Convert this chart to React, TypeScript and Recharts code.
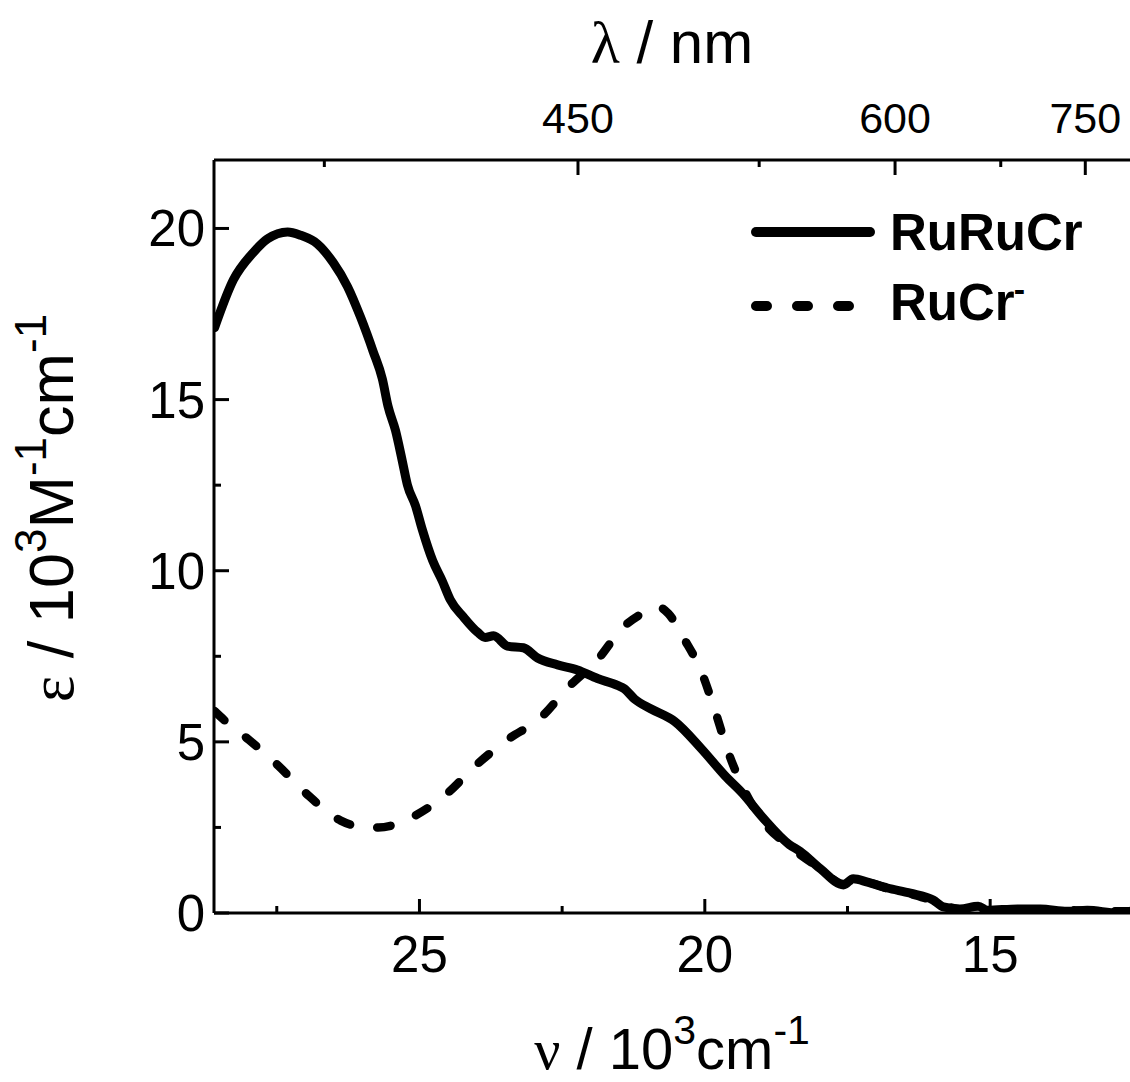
import React from 'react';
import { LineChart, Line, XAxis, YAxis, Legend } from 'recharts';

// RuRuCr (solid): wavenumber (10^3 cm^-1) and epsilon (10^3 M^-1 cm^-1)
const RURUCR_NU = [28.59, 28.26, 27.91, 27.66, 27.31, 27.08, 26.79, 26.51, 26.26, 26.03, 25.81, 25.65, 25.55, 25.42, 25.3, 25.21, 25.07, 24.95, 24.77, 24.6, 24.46, 24.23, 23.98, 23.85, 23.7, 23.46, 23.18, 22.93, 22.58, 22.23, 21.88, 21.53, 21.41, 21.23, 20.94, 20.53, 20.06, 19.64, 19.34, 18.99, 18.52, 18.33, 17.98, 17.57, 17.4, 17.15, 16.8, 16.4, 16.0, 15.82, 15.53, 15.21, 15.05, 14.52, 14.12, 13.65, 13.3, 12.77, 12.55];
const RURUCR_EPS = [17.1, 18.5, 19.3, 19.7, 19.9, 19.8, 19.55, 19.0, 18.3, 17.4, 16.4, 15.6, 14.8, 14.1, 13.2, 12.5, 11.9, 11.2, 10.3, 9.7, 9.15, 8.65, 8.2, 8.05, 8.1, 7.8, 7.75, 7.45, 7.25, 7.1, 6.85, 6.65, 6.55, 6.25, 5.96, 5.6, 4.8, 4.0, 3.5, 2.8, 2.0, 1.8, 1.3, 0.82, 1.0, 0.9, 0.73, 0.58, 0.38, 0.18, 0.12, 0.2, 0.08, 0.12, 0.12, 0.05, 0.08, 0.0, 0.05];

// RuCr- (dashed)
const RUCR_NU = [28.59, 28.43, 27.99, 27.47, 26.99, 26.38, 25.95, 25.72, 25.4, 25.07, 24.51, 24.02, 23.46, 22.88, 22.39, 21.88, 21.43, 21.1, 20.83, 20.64, 20.36, 20.06, 19.82, 19.59, 19.34, 18.99, 18.52, 17.98, 17.57, 17.15, 16.8, 16.4, 16.0, 15.5, 15.0, 14.0, 13.0, 12.55];
const RUCR_EPS = [5.9, 5.65, 5.06, 4.3, 3.5, 2.7, 2.5, 2.5, 2.6, 2.85, 3.5, 4.3, 5.06, 5.7, 6.6, 7.4, 8.35, 8.75, 8.95, 8.75, 8.0, 7.05, 5.9, 4.7, 3.7, 2.7, 1.95, 1.3, 0.85, 0.88, 0.72, 0.56, 0.36, 0.1, 0.08, 0.1, 0.05, 0.05];

const SERIES_NAMES = ['RuRuCr', 'RuCr'];
const SERIES_SUPS = ['', '-'];

const NU_MAJOR = [25, 20, 15];
const NU_MINOR = [27.5, 22.5, 17.5];
const LAMBDA_MAJOR = [450, 600, 750];
const LAMBDA_MINOR = [375, 525, 675];
const EPS_MAJOR = [0, 5, 10, 15, 20];
const EPS_MINOR = [2.5, 7.5, 12.5, 17.5];
const NU_DOMAIN: [number, number] = [12.55, 28.6];
const EPS_DOMAIN: [number, number] = [0, 22];

const rurucrData = RURUCR_NU.map((v, i) => ({ v, e: RURUCR_EPS[i] }));
const rucrData = RUCR_NU.map((v, i) => ({ v, e: RUCR_EPS[i] }));

const nuTicks = [...NU_MINOR, ...NU_MAJOR].sort((a, b) => b - a);
const lambdaTicks = [...LAMBDA_MINOR, ...LAMBDA_MAJOR].sort((a, b) => a - b).map((l) => 10000 / l);
const epsTicks = [...EPS_MINOR, ...EPS_MAJOR].sort((a, b) => a - b);

const SANS = '"Liberation Sans", Arial, Helvetica, sans-serif';
const SERIF = '"Liberation Serif", "Times New Roman", "DejaVu Serif", serif';

const W = 1130;
const H = 1082;
const PLOT_LEFT = 214;
const PLOT_TOP = 160;
const PLOT_BOTTOM = 913;

const isIn = (arr: number[], v: number) => arr.some((m) => Math.abs(m - v) < 1e-6);

function BottomTick(props: any) {
  const { x, y, payload } = props;
  const major = isIn(NU_MAJOR, payload.value);
  return (
    <g>
      <line x1={x} x2={x} y1={y} y2={y - (major ? 14 : 7)} stroke="#000" strokeWidth={3} />
      {major && (
        <text x={x} y={y + 59} textAnchor="middle" fontFamily={SANS} fontSize={51} fill="#000">
          {payload.value}
        </text>
      )}
    </g>
  );
}

function TopTick(props: any) {
  const { x, y, payload } = props;
  const lam = Math.round(10000 / payload.value);
  const major = isIn(LAMBDA_MAJOR, lam);
  return (
    <g>
      <line x1={x} x2={x} y1={y} y2={y + (major ? 15 : 7)} stroke="#000" strokeWidth={3} />
      {major && (
        <text x={x} y={y - 27} textAnchor="middle" fontFamily={SANS} fontSize={43} fill="#000">
          {lam}
        </text>
      )}
    </g>
  );
}

function LeftTick(props: any) {
  const { x, y, payload } = props;
  const major = isIn(EPS_MAJOR, payload.value);
  return (
    <g>
      <line x1={x} x2={x + (major ? 15 : 7)} y1={y} y2={y} stroke="#000" strokeWidth={3} />
      {major && (
        <text x={x - 9} y={y + 18} textAnchor="end" fontFamily={SANS} fontSize={51} fill="#000">
          {payload.value}
        </text>
      )}
    </g>
  );
}

function RightTick(props: any) {
  const { x, y, payload } = props;
  const major = isIn(EPS_MAJOR, payload.value);
  return <line x1={x} x2={x - (major ? 12 : 4)} y1={y} y2={y} stroke="#000" strokeWidth={3} />;
}

function BottomTitle() {
  const cx = (PLOT_LEFT + W) / 2;
  return (
    <text x={cx} y={1069} textAnchor="middle" fontFamily={SANS} fontSize={58} fill="#000">
      <tspan fontFamily={SERIF}>ν</tspan>
      <tspan> / 10</tspan>
      <tspan dy={-25} fontSize={41}>3</tspan>
      <tspan dy={25}>cm</tspan>
      <tspan dy={-25} fontSize={41}>-1</tspan>
    </text>
  );
}

function TopTitle() {
  const cx = (PLOT_LEFT + W) / 2;
  return (
    <text x={cx} y={63} textAnchor="middle" fontFamily={SANS} fontSize={60} fill="#000">
      <tspan fontFamily={SERIF}>λ</tspan>
      <tspan> / nm</tspan>
    </text>
  );
}

function LeftTitle() {
  const cx = 73;
  const cy = 508;
  return (
    <text x={cx} y={cy} transform={`rotate(-90, ${cx}, ${cy})`} textAnchor="middle" fontFamily={SANS} fontSize={63} fill="#000">
      <tspan fontFamily={SERIF}>ε</tspan>
      <tspan> / 10</tspan>
      <tspan dy={-27} fontSize={44}>3</tspan>
      <tspan dy={27}>M</tspan>
      <tspan dy={-27} fontSize={44}>-1</tspan>
      <tspan dy={27}>cm</tspan>
      <tspan dy={-27} fontSize={44}>-1</tspan>
    </text>
  );
}

function LegendContent() {
  return (
    <svg width={390} height={150} style={{ overflow: 'visible', display: 'block' }}>
      {SERIES_NAMES.map((name, i) => {
        const ly = i === 0 ? 42 : 116;
        const ty = i === 0 ? 60 : 130;
        return (
          <g key={name}>
            <line
              x1={16}
              x2={i === 0 ? 130 : 109}
              y1={ly}
              y2={ly}
              stroke="#000"
              strokeWidth={10}
              strokeLinecap="round"
              strokeDasharray={i === 0 ? undefined : '11 30'}
            />
            <text x={150} y={ty} fontFamily={SANS} fontWeight="bold" fontSize={51} fill="#000">
              {name}
              {SERIES_SUPS[i] && (
                <tspan dx={-1} dy={-19} fontSize={34}>
                  {SERIES_SUPS[i]}
                </tspan>
              )}
            </text>
          </g>
        );
      })}
    </svg>
  );
}

export default function App() {
  return (
    <div style={{ width: W, height: H }}>
      <style>{'body{margin:0;}'}</style>
      <LineChart width={W} height={H} margin={{ top: 0, right: 0, bottom: 0, left: 0 }}>
        <XAxis
          xAxisId="bottom"
          dataKey="v"
          type="number"
          domain={NU_DOMAIN}
          allowDataOverflow
          reversed
          orientation="bottom"
          height={H - PLOT_BOTTOM}
          ticks={nuTicks}
          interval={0}
          tickSize={0}
          tickMargin={0}
          tickLine={false}
          tick={BottomTick}
          axisLine={{ stroke: '#000', strokeWidth: 3 }}
          label={{ content: () => <BottomTitle /> }}
        />
        <XAxis
          xAxisId="top"
          dataKey="v"
          type="number"
          domain={NU_DOMAIN}
          allowDataOverflow
          reversed
          orientation="top"
          height={PLOT_TOP}
          ticks={lambdaTicks}
          interval={0}
          tickSize={0}
          tickMargin={0}
          tickLine={false}
          tick={TopTick}
          axisLine={{ stroke: '#000', strokeWidth: 3 }}
          label={{ content: () => <TopTitle /> }}
        />
        <YAxis
          yAxisId="left"
          type="number"
          domain={EPS_DOMAIN}
          allowDataOverflow
          orientation="left"
          width={PLOT_LEFT}
          ticks={epsTicks}
          interval={0}
          tickSize={0}
          tickMargin={0}
          tickLine={false}
          tick={LeftTick}
          axisLine={{ stroke: '#000', strokeWidth: 3 }}
          label={{ content: () => <LeftTitle /> }}
        />
        <YAxis
          yAxisId="right"
          type="number"
          domain={EPS_DOMAIN}
          allowDataOverflow
          orientation="right"
          width={0}
          ticks={epsTicks}
          interval={0}
          tickSize={0}
          tickMargin={0}
          tickLine={false}
          tick={RightTick}
          axisLine={false}
        />
        <Legend
          layout="horizontal"
          verticalAlign="middle"
          align="center"
          wrapperStyle={{ position: 'absolute', left: 740, top: 190, width: 390, height: 150 }}
          content={LegendContent}
        />
        <Line
          name="RuRuCr"
          data={rurucrData}
          dataKey="e"
          xAxisId="bottom"
          yAxisId="left"
          type="monotone"
          stroke="#000"
          strokeWidth={9}
          strokeLinejoin="round"
          strokeLinecap="round"
          dot={false}
          activeDot={false}
          isAnimationActive={false}
        />
        <Line
          name="RuCr-"
          data={rucrData}
          dataKey="e"
          xAxisId="bottom"
          yAxisId="left"
          type="monotone"
          stroke="#000"
          strokeWidth={8.5}
          strokeDasharray="13.5 27.5"
          strokeLinecap="round"
          dot={false}
          activeDot={false}
          isAnimationActive={false}
        />
      </LineChart>
    </div>
  );
}
